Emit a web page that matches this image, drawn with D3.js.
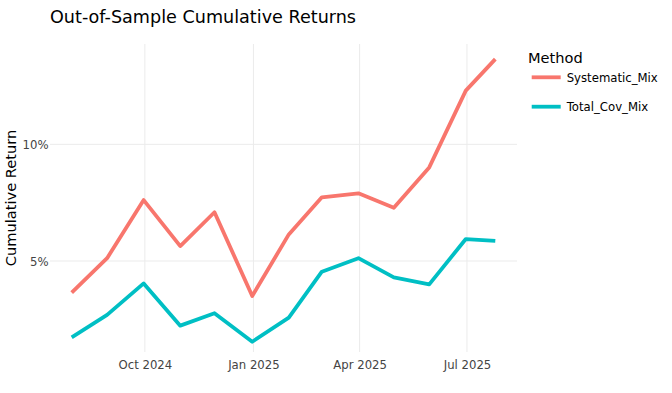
<!DOCTYPE html>
<html>
<head>
<meta charset="utf-8">
<script src="https://cdn.jsdelivr.net/npm/d3@7"></script>
<style>
  html, body { margin: 0; padding: 0; background: #fff; }
  svg { display: block; font-family: "DejaVu Sans", Verdana, sans-serif; }
</style>
</head>
<body>
<svg id="chart" width="672" height="393"></svg>
<script>
// ---- data ----
const dates = ["2024-07-31","2024-08-30","2024-09-30","2024-10-31","2024-11-29","2024-12-31",
               "2025-01-31","2025-02-28","2025-03-31","2025-04-30","2025-05-30","2025-06-30","2025-07-25"];
const systematicMix = [3.64, 5.12, 7.61, 5.64, 7.09, 3.50, 6.14, 7.73, 7.90, 7.28, 9.01, 12.30, 13.65];
const totalCovMix   = [1.73, 2.69, 4.04, 2.23, 2.76, 1.54, 2.57, 4.54, 5.12, 4.30, 4.00, 5.94, 5.86];
const seriesNames = ["Systematic_Mix", "Total_Cov_Mix"];
const seriesColors = ["#F8766D", "#00BFC4"];
const yTicks = [5, 10];
const yDomain = [1.10, 14.30];
const chartTitle = "Out-of-Sample Cumulative Returns";
const yTitle = "Cumulative Return";
const legendTitle = "Method";

// ---- layout ----
const W = 672, H = 393;
const plot = { left: 50, right: 517, top: 44, bottom: 352 };
const svg = d3.select("#chart");

const parse = d3.utcParse("%Y-%m-%d");
const dts = dates.map(parse);

const x = d3.scaleUtc().domain(d3.extent(dts)).range([71.7, 495.3]);
const y = d3.scaleLinear().domain(yDomain).range([plot.bottom, plot.top]);

const gridColor = "#ebebeb";

// grid
const xTickVals = d3.utcMonth.every(3).range(x.domain()[0], x.domain()[1]);
svg.append("g").selectAll("line").data(xTickVals).join("line")
  .attr("x1", d => x(d)).attr("x2", d => x(d))
  .attr("y1", plot.top).attr("y2", plot.bottom)
  .attr("stroke", gridColor).attr("stroke-width", 1);
svg.append("g").selectAll("line").data(yTicks).join("line")
  .attr("x1", plot.left).attr("x2", plot.right)
  .attr("y1", d => y(d)).attr("y2", d => y(d))
  .attr("stroke", gridColor).attr("stroke-width", 1);

// axes labels via d3 axes
const xAxis = d3.axisBottom(x).tickValues(xTickVals).tickFormat(d3.utcFormat("%b %Y")).tickSize(0).tickPadding(0);
const gx = svg.append("g").attr("transform", `translate(0,${plot.bottom})`).call(xAxis);
gx.select(".domain").remove();
gx.selectAll("text").attr("font-size", "11.7px").attr("fill", "#444")
  .attr("font-family", "DejaVu Sans, Verdana, sans-serif")
  .attr("dy", null).attr("y", 17);

const yAxis = d3.axisLeft(y).tickValues(yTicks).tickFormat(d => d + "%").tickSize(0).tickPadding(0);
const gy = svg.append("g").attr("transform", `translate(${plot.left - 1.5},0)`).call(yAxis);
gy.select(".domain").remove();
gy.selectAll("text").attr("font-size", "11.7px").attr("fill", "#444")
  .attr("font-family", "DejaVu Sans, Verdana, sans-serif")
  .attr("dy", "0.35em");

// lines
const series = [systematicMix, totalCovMix];
const line = d3.line().x((d, i) => x(dts[i])).y(d => y(d));
series.forEach((s, k) => {
  svg.append("path").datum(s)
    .attr("d", line)
    .attr("fill", "none")
    .attr("stroke", seriesColors[k])
    .attr("stroke-width", 3.8)
    .attr("stroke-linejoin", "round")
    .attr("stroke-linecap", "butt");
});

// title
svg.append("text").attr("x", 50).attr("y", 22.5)
  .attr("font-size", "17.6px").attr("fill", "#000").text(chartTitle);

// y title
svg.append("text").attr("transform", `translate(15.5,${(plot.top + plot.bottom) / 2}) rotate(-90)`)
  .attr("text-anchor", "middle").attr("font-size", "14.6px").attr("fill", "#000").text(yTitle);

// legend
const lg = svg.append("g");
lg.append("text").attr("x", 528).attr("y", 63).attr("font-size", "14.6px").attr("fill", "#000").text(legendTitle);
seriesNames.forEach((n, k) => {
  const yy = 77.3 + k * 29.4;
  lg.append("line").attr("x1", 531.7).attr("x2", 560.7).attr("y1", yy).attr("y2", yy)
    .attr("stroke", seriesColors[k]).attr("stroke-width", 3.8);
  lg.append("text").attr("x", 566.7).attr("y", yy).attr("dy", "0.36em")
    .attr("font-size", "11.7px").attr("fill", "#000").text(n);
});
</script>
</body>
</html>
